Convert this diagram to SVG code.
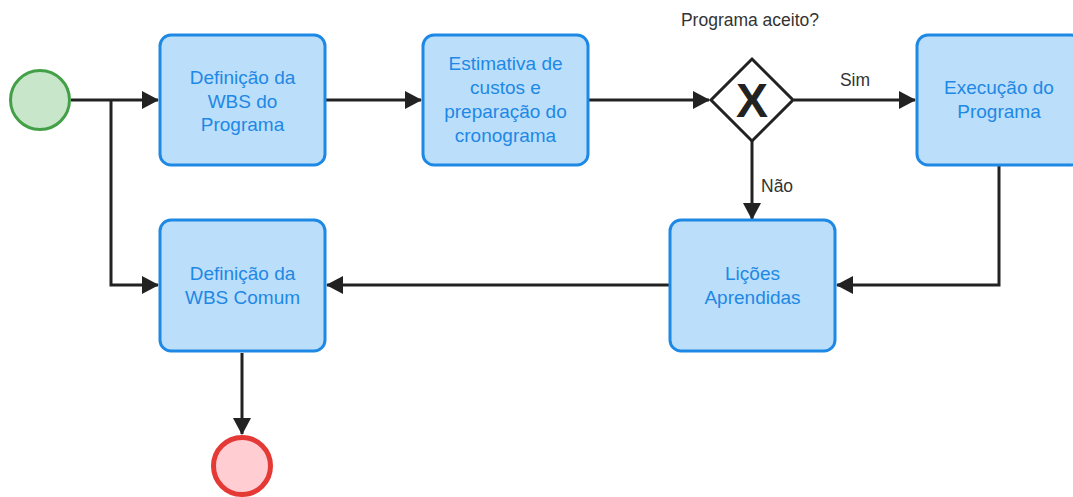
<svg xmlns="http://www.w3.org/2000/svg" width="1073" height="497" viewBox="0 0 1073 497">
<style>
.task{fill:#bbdefb;stroke:#1e88e5;stroke-width:3}
.tt{font-family:"Liberation Sans",Arial,sans-serif;font-size:19px;fill:#1e88e5;text-anchor:middle}
.lbl{font-family:"Liberation Sans",Arial,sans-serif;font-size:17.5px;fill:#333}
.edge{fill:none;stroke:#222;stroke-width:3}
</style>
<defs>
<marker id="arr" markerUnits="userSpaceOnUse" markerWidth="18" markerHeight="18" refX="16" refY="9" orient="auto">
<path d="M0,0 L17,9 L0,18 Z" fill="#222"/>
</marker>
</defs>
<g id="connectors">
<path class="edge" d="M71,100 H158" marker-end="url(#arr)"/>
<path class="edge" d="M111,100 V285 H158" marker-end="url(#arr)"/>
<path class="edge" d="M326,100 H421" marker-end="url(#arr)"/>
<path class="edge" d="M589,100 H709" marker-end="url(#arr)"/>
<path class="edge" d="M794,100 H915" marker-end="url(#arr)"/>
<path class="edge" d="M752,141 V219" marker-end="url(#arr)"/>
<path class="edge" d="M999,166 V285 H837" marker-end="url(#arr)"/>
<path class="edge" d="M669,285 H327" marker-end="url(#arr)"/>
<path class="edge" d="M242,353 V434" marker-end="url(#arr)"/>
<text class="lbl" x="855" y="86" text-anchor="middle">Sim</text>
<text class="lbl" x="761" y="192">Não</text>
</g>
<g id="start"><circle cx="40" cy="100" r="29.5" fill="#c8e6c9" stroke="#43a047" stroke-width="3"/></g>
<g id="wbs-programa">
<rect class="task" x="160" y="35" width="165" height="130" rx="11"/>
<text class="tt" x="242.5" y="84">Definição da</text>
<text class="tt" x="242.5" y="108">WBS do</text>
<text class="tt" x="242.5" y="131">Programa</text>
</g>
<g id="estimativa">
<rect class="task" x="423" y="35" width="165" height="130" rx="11"/>
<text class="tt" x="505.5" y="70">Estimativa de</text>
<text class="tt" x="505.5" y="94">custos e</text>
<text class="tt" x="505.5" y="118">preparação do</text>
<text class="tt" x="505.5" y="142">cronograma</text>
</g>
<g id="gateway">
<path d="M752,59 L793,100 L752,141 L711,100 Z" fill="#fff" stroke="#222" stroke-width="3"/>
<text x="752" y="117" font-family="Liberation Sans,Arial,sans-serif" font-weight="bold" font-size="48" fill="#222" text-anchor="middle">X</text>
<text class="lbl" x="750" y="26" text-anchor="middle">Programa aceito?</text>
</g>
<g id="execucao">
<rect class="task" x="917" y="35" width="165" height="130" rx="11"/>
<text class="tt" x="999" y="94">Execução do</text>
<text class="tt" x="999" y="118">Programa</text>
</g>
<g id="licoes">
<rect class="task" x="670" y="220" width="165" height="131" rx="11"/>
<text class="tt" x="752.5" y="280">Lições</text>
<text class="tt" x="752.5" y="304">Aprendidas</text>
</g>
<g id="wbs-comum">
<rect class="task" x="160" y="220" width="165" height="131" rx="11"/>
<text class="tt" x="242.5" y="280">Definição da</text>
<text class="tt" x="242.5" y="304">WBS Comum</text>
</g>
<g id="end"><circle cx="242" cy="466" r="28.5" fill="#ffcdd2" stroke="#e53935" stroke-width="5"/></g>
</svg>
